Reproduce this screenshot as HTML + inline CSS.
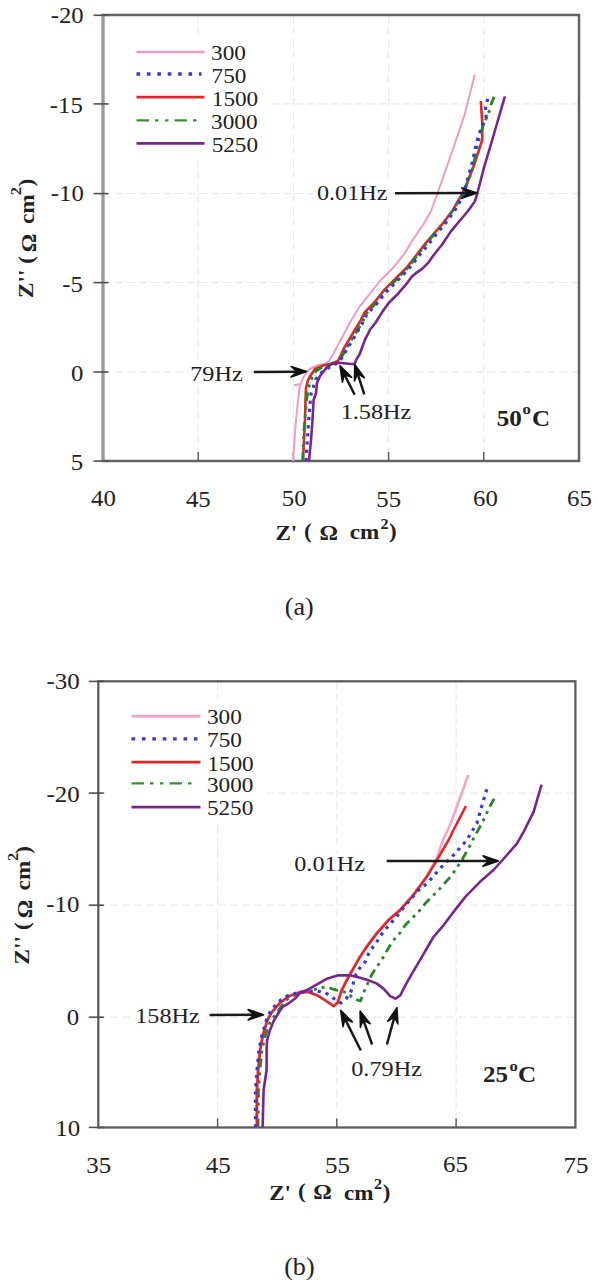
<!DOCTYPE html>
<html><head><meta charset="utf-8"><style>
html,body{margin:0;padding:0;background:#fff;}
svg{display:block;font-family:"Liberation Serif", serif;}
</style></head><body>
<svg width="598" height="1280" viewBox="0 0 598 1280" font-family='"Liberation Serif", serif' fill="#222">
<line x1="198.2" y1="15" x2="198.2" y2="461" stroke="#e6e6e6" stroke-width="1" stroke-dasharray="8 4"/>
<line x1="293.4" y1="15" x2="293.4" y2="461" stroke="#e6e6e6" stroke-width="1" stroke-dasharray="8 4"/>
<line x1="388.6" y1="15" x2="388.6" y2="461" stroke="#e6e6e6" stroke-width="1" stroke-dasharray="8 4"/>
<line x1="483.8" y1="15" x2="483.8" y2="461" stroke="#e6e6e6" stroke-width="1" stroke-dasharray="8 4"/>
<line x1="103" y1="103.9" x2="579" y2="103.9" stroke="#e6e6e6" stroke-width="1" stroke-dasharray="8 4"/>
<line x1="103" y1="193.6" x2="579" y2="193.6" stroke="#e6e6e6" stroke-width="1" stroke-dasharray="8 4"/>
<line x1="103" y1="282.6" x2="579" y2="282.6" stroke="#e6e6e6" stroke-width="1" stroke-dasharray="8 4"/>
<line x1="103" y1="372.0" x2="579" y2="372.0" stroke="#e6e6e6" stroke-width="1" stroke-dasharray="8 4"/>
<rect x="103" y="15" width="476" height="446" fill="none" stroke="#626262" stroke-width="2.5"/>
<line x1="103" y1="15" x2="103" y2="461" stroke="#9a9a9a" stroke-width="3"/>
<line x1="93.5" y1="15.3" x2="108.5" y2="15.3" stroke="#505050" stroke-width="1.6"/>
<line x1="93.5" y1="103.9" x2="108.5" y2="103.9" stroke="#505050" stroke-width="1.6"/>
<line x1="93.5" y1="193.6" x2="108.5" y2="193.6" stroke="#505050" stroke-width="1.6"/>
<line x1="93.5" y1="282.6" x2="108.5" y2="282.6" stroke="#505050" stroke-width="1.6"/>
<line x1="93.5" y1="372.0" x2="108.5" y2="372.0" stroke="#505050" stroke-width="1.6"/>
<line x1="93.5" y1="461.1" x2="108.5" y2="461.1" stroke="#505050" stroke-width="1.6"/>
<line x1="198.2" y1="461" x2="198.2" y2="452" stroke="#505050" stroke-width="1.4"/>
<line x1="293.4" y1="461" x2="293.4" y2="452" stroke="#505050" stroke-width="1.4"/>
<line x1="388.6" y1="461" x2="388.6" y2="452" stroke="#505050" stroke-width="1.4"/>
<line x1="483.8" y1="461" x2="483.8" y2="452" stroke="#505050" stroke-width="1.4"/>
<line x1="217.6" y1="681.3" x2="217.6" y2="1127.5" stroke="#e6e6e6" stroke-width="1" stroke-dasharray="8 4"/>
<line x1="336.8" y1="681.3" x2="336.8" y2="1127.5" stroke="#e6e6e6" stroke-width="1" stroke-dasharray="8 4"/>
<line x1="456.1" y1="681.3" x2="456.1" y2="1127.5" stroke="#e6e6e6" stroke-width="1" stroke-dasharray="8 4"/>
<line x1="98.3" y1="793.1" x2="575.4" y2="793.1" stroke="#e6e6e6" stroke-width="1" stroke-dasharray="8 4"/>
<line x1="98.3" y1="905.2" x2="575.4" y2="905.2" stroke="#e6e6e6" stroke-width="1" stroke-dasharray="8 4"/>
<line x1="98.3" y1="1017.2" x2="575.4" y2="1017.2" stroke="#e6e6e6" stroke-width="1" stroke-dasharray="8 4"/>
<rect x="98.3" y="681.3" width="477.09999999999997" height="446.20000000000005" fill="none" stroke="#5c5c5c" stroke-width="2.3"/>
<line x1="88.8" y1="681.4" x2="103.8" y2="681.4" stroke="#505050" stroke-width="1.6"/>
<line x1="88.8" y1="793.1" x2="103.8" y2="793.1" stroke="#505050" stroke-width="1.6"/>
<line x1="88.8" y1="905.2" x2="103.8" y2="905.2" stroke="#505050" stroke-width="1.6"/>
<line x1="88.8" y1="1017.2" x2="103.8" y2="1017.2" stroke="#505050" stroke-width="1.6"/>
<line x1="88.8" y1="1127.4" x2="103.8" y2="1127.4" stroke="#505050" stroke-width="1.6"/>
<line x1="217.6" y1="1127.5" x2="217.6" y2="1118.5" stroke="#505050" stroke-width="1.4"/>
<line x1="336.8" y1="1127.5" x2="336.8" y2="1118.5" stroke="#505050" stroke-width="1.4"/>
<line x1="456.1" y1="1127.5" x2="456.1" y2="1118.5" stroke="#505050" stroke-width="1.4"/>
<rect x="110" y="38" width="157" height="117" fill="#fff"/>
<line x1="136.5" y1="52" x2="204.5" y2="52" stroke="#ee9cc6" stroke-width="2.4"/>
<line x1="136.5" y1="74" x2="201.5" y2="74" stroke="#3a3ad0" stroke-width="3.4" stroke-dasharray="3.6 6.8"/>
<line x1="136.5" y1="97.2" x2="204.5" y2="97.2" stroke="#dc2828" stroke-width="2.8"/>
<line x1="136.5" y1="120.3" x2="197.5" y2="120.3" stroke="#3a8e3a" stroke-width="2.3" stroke-dasharray="12.5 6 3.5 6.5 3.5 6"/>
<line x1="136.5" y1="143.4" x2="204.5" y2="143.4" stroke="#78268c" stroke-width="2.8"/>
<rect x="108" y="699" width="154" height="122" fill="#fff"/>
<line x1="131.5" y1="716.3" x2="200.5" y2="716.3" stroke="#f4a6c8" stroke-width="3"/>
<line x1="131.5" y1="738.9" x2="197.5" y2="738.9" stroke="#3a3ad0" stroke-width="3.4" stroke-dasharray="3.6 6.8"/>
<line x1="131.5" y1="762.2" x2="200.5" y2="762.2" stroke="#dc2828" stroke-width="2.8"/>
<line x1="131.5" y1="783.3" x2="193.5" y2="783.3" stroke="#3a8e3a" stroke-width="2.3" stroke-dasharray="12.5 6 3.5 6.5 3.5 6"/>
<line x1="131.5" y1="807.1" x2="200.5" y2="807.1" stroke="#78268c" stroke-width="2.8"/>
<rect x="314" y="182" width="77" height="22" fill="#fff"/>
<rect x="188" y="363" width="58" height="23" fill="#fff"/>
<rect x="340" y="401" width="73" height="21" fill="#fff"/>
<rect x="291" y="853" width="77" height="22" fill="#fff"/>
<rect x="134" y="1005" width="69" height="23" fill="#fff"/>
<rect x="348" y="1059" width="77" height="21" fill="#fff"/>
<polyline points="293.0,461.0 294.5,440.0 296.0,420.0 298.0,400.0 300.0,386.0 303.0,378.0 306.0,373.0 309.6,369.0 318.0,365.0 325.0,364.0 329.0,361.0 332.7,354.9 342.0,337.5 351.4,320.1 359.4,306.8 370.1,293.4 380.8,280.0 393.4,267.5 404.1,254.1 414.8,236.8 424.1,223.4 431.5,210.0 437.4,193.5 446.8,166.8 456.1,140.0 464.5,115.0 474.8,74.4" fill="none" stroke="#ee9cc6" stroke-width="2.0" stroke-linejoin="round"/>
<polyline points="300.0,384.0 293.5,385.5" fill="none" stroke="#ee9cc6" stroke-width="2.0" stroke-linejoin="round"/>
<polyline points="303.0,461.0 304.0,440.0 305.0,420.0 305.5,400.0 306.0,388.0 308.0,380.0 311.0,375.0 315.0,369.0 323.0,365.5 330.0,364.0 338.0,361.0 344.7,346.9 352.7,333.5 360.8,320.1 364.8,312.1 374.1,302.7 384.8,289.4 396.0,278.2 406.8,267.5 416.1,255.5 425.5,243.4 433.5,234.1 442.9,223.4 452.9,210.0 460.1,197.5 465.5,186.8 473.5,166.8 482.2,140.0 482.4,125.0 480.8,101.0" fill="none" stroke="#dc2828" stroke-width="2.6" stroke-linejoin="round"/>
<polyline points="302.6,461.0 304.0,430.0 306.5,400.0 308.5,388.0 312.0,378.0 316.0,371.0 324.0,366.0 332.0,364.0 339.0,362.0 346.5,348.0 354.5,335.0 362.5,322.0 366.5,313.5 375.5,303.5 386.0,290.0 397.0,279.0 407.5,268.0 416.8,256.0 426.0,244.0 434.0,234.5 443.5,223.5 453.5,210.0 460.5,198.0 466.0,187.0 472.0,171.0 478.8,140.0 483.0,126.0 486.2,118.5 489.5,110.5 491.5,103.1 495.5,93.8" fill="none" stroke="#2a862a" stroke-width="2.8" stroke-linejoin="round" stroke-dasharray="9 5 3 5 3 5"/>
<polyline points="306.0,461.0 308.0,430.0 309.5,410.0 311.0,394.0 316.0,379.0 322.0,372.0 326.0,369.5 332.0,365.5 339.0,362.5 347.0,349.0 355.0,336.0 363.0,322.0 367.0,314.0 376.5,304.0 387.0,291.0 398.0,280.0 408.5,269.0 418.8,256.0 427.0,246.0 435.0,236.0 444.5,224.5 454.5,211.0 461.5,199.0 466.8,182.0 472.2,162.7 474.2,153.4 476.2,144.0 478.8,134.6 482.1,126.5 486.2,117.8 485.5,107.1 488.2,97.1" fill="none" stroke="#3a3ad0" stroke-width="3.2" stroke-linejoin="round" stroke-dasharray="3.2 5"/>
<polyline points="309.0,461.0 311.0,440.0 312.5,420.0 313.6,400.0 316.0,393.0 317.0,383.0 320.0,376.0 324.0,371.0 327.0,367.0 332.0,364.0 339.0,362.8 346.0,363.5 354.5,364.2 356.8,358.5 359.3,355.0 364.8,340.2 370.1,329.5 375.5,322.8 382.2,312.1 388.9,302.7 397.5,294.3 401.7,289.3 407.5,282.6 411.7,276.8 416.7,272.6 422.6,268.4 428.4,262.6 434.3,254.2 441.8,245.0 450.9,231.4 460.0,220.5 468.0,211.0 474.8,201.5 477.3,193.5 484.2,166.8 492.2,140.0 498.0,120.0 504.9,96.4" fill="none" stroke="#78268c" stroke-width="2.6" stroke-linejoin="round"/>
<line x1="395.0" y1="193.3" x2="467.7" y2="193.0" stroke="#1a1a1a" stroke-width="2.5"/>
<polygon points="477.2,193.0 461.7,198.3 467.7,193.0 461.7,187.9" fill="#111" stroke="#111" stroke-width="1.6" stroke-linejoin="round"/>
<line x1="253.8" y1="371.9" x2="297.1" y2="371.7" stroke="#1a1a1a" stroke-width="2.5"/>
<polygon points="306.6,371.6 291.1,376.9 297.1,371.7 291.1,366.5" fill="#111" stroke="#111" stroke-width="1.6" stroke-linejoin="round"/>
<line x1="354.7" y1="394.7" x2="344.3" y2="374.4" stroke="#1a1a1a" stroke-width="2.5"/>
<polygon points="340.0,365.9 351.7,377.3 344.3,374.4 342.4,382.1" fill="#111" stroke="#111" stroke-width="1.6" stroke-linejoin="round"/>
<line x1="364.3" y1="394.3" x2="357.6" y2="373.6" stroke="#1a1a1a" stroke-width="2.5"/>
<polygon points="354.7,364.6 364.4,377.7 357.6,373.6 354.5,380.9" fill="#111" stroke="#111" stroke-width="1.6" stroke-linejoin="round"/>
<polyline points="258.0,1127.4 258.5,1090.0 260.0,1070.0 262.0,1050.0 265.5,1035.0 270.5,1021.0 276.0,1014.0 285.0,1001.0 292.0,996.0 300.0,993.0 310.0,990.5 325.6,986.8 336.3,990.1 347.6,992.8 353.4,998.7 360.5,1001.0 364.3,991.1 368.5,981.9 371.8,974.4 378.5,964.4 383.5,956.9 388.6,947.7 393.6,940.1 400.3,932.6 405.3,925.1 412.0,918.4 420.0,910.0 425.2,903.5 438.5,890.2 451.9,875.1 461.9,860.1 470.3,845.0 473.4,838.6 481.8,823.5 490.1,806.0 494.8,797.6" fill="none" stroke="#2a862a" stroke-width="2.8" stroke-linejoin="round" stroke-dasharray="9 5 3 5 3 5"/>
<polyline points="256.5,1127.4 256.5,1090.0 257.7,1070.0 259.7,1050.0 262.5,1035.0 267.0,1020.0 271.5,1012.0 279.6,1002.5 289.0,995.8 300.0,991.8 308.2,991.8 317.5,995.2 326.9,1001.2 333.6,1005.8 337.2,1002.5 341.2,990.0 346.3,980.0 352.9,968.3 359.6,956.6 366.3,946.5 376.4,933.0 387.9,920.0 399.6,909.8 412.9,894.8 426.3,876.4 436.0,860.0 443.0,840.0 450.0,825.2 468.4,775.0" fill="none" stroke="#f4a6c8" stroke-width="2.6" stroke-linejoin="round"/>
<polyline points="257.0,1127.4 257.0,1090.0 258.2,1070.0 260.2,1050.0 263.0,1035.0 267.5,1020.0 272.0,1012.2 280.1,1002.8 289.4,996.1 300.1,992.1 308.2,992.1 317.5,995.5 326.9,1001.5 333.6,1006.2 337.6,1002.8 341.7,990.3 346.8,980.3 353.4,968.6 360.1,956.9 366.8,946.8 376.9,933.4 388.4,920.3 400.1,910.2 413.4,895.2 426.8,876.8 436.9,860.1 448.6,840.0 452.0,833.0 465.9,806.0" fill="none" stroke="#dc2828" stroke-width="2.6" stroke-linejoin="round"/>
<polyline points="255.5,1127.4 255.5,1090.0 257.0,1070.0 259.0,1050.0 262.0,1035.0 266.5,1020.0 270.7,1010.8 278.7,1001.5 286.8,996.1 297.5,992.8 306.0,991.5 316.2,990.8 325.6,992.8 334.2,998.8 341.0,1003.0 346.0,999.0 350.1,993.6 352.6,987.0 354.3,977.8 359.3,968.6 365.2,961.9 369.3,951.8 375.2,944.3 381.0,935.1 386.9,927.6 394.4,919.2 405.0,906.0 418.5,890.2 426.8,883.5 440.2,868.4 453.6,855.0 466.7,840.2 476.8,823.5 481.8,806.0 487.6,786.7" fill="none" stroke="#3a3ad0" stroke-width="3.2" stroke-linejoin="round" stroke-dasharray="3.2 5"/>
<polyline points="262.6,1127.4 263.6,1090.0 266.6,1070.0 266.6,1050.0 267.1,1040.0 270.1,1030.0 274.1,1020.0 279.1,1012.0 282.7,1006.8 289.4,1002.8 294.8,998.8 300.1,992.8 308.2,989.4 317.5,984.1 326.9,978.7 337.6,975.4 350.1,975.3 360.1,977.8 368.5,980.3 376.9,983.6 383.5,988.6 390.2,996.2 395.3,998.7 400.3,995.3 405.3,985.3 412.0,973.6 420.0,960.2 427.0,948.0 433.5,937.0 443.5,925.3 453.6,911.9 465.3,896.9 480.0,881.8 493.5,870.0 505.2,857.0 516.9,843.6 523.6,831.9 533.6,811.8 541.6,784.7" fill="none" stroke="#78268c" stroke-width="2.6" stroke-linejoin="round"/>
<line x1="386.6" y1="861.0" x2="489.0" y2="861.0" stroke="#1a1a1a" stroke-width="2.5"/>
<polygon points="498.5,861.0 483.0,866.2 489.0,861.0 483.0,855.8" fill="#111" stroke="#111" stroke-width="1.6" stroke-linejoin="round"/>
<line x1="209.6" y1="1015.0" x2="254.1" y2="1014.8" stroke="#1a1a1a" stroke-width="2.5"/>
<polygon points="263.6,1014.7 248.1,1020.0 254.1,1014.8 248.1,1009.6" fill="#111" stroke="#111" stroke-width="1.6" stroke-linejoin="round"/>
<line x1="360.8" y1="1050.5" x2="345.0" y2="1018.9" stroke="#1a1a1a" stroke-width="2.5"/>
<polygon points="340.7,1010.4 352.3,1021.9 345.0,1018.9 343.0,1026.6" fill="#111" stroke="#111" stroke-width="1.6" stroke-linejoin="round"/>
<line x1="372.1" y1="1044.5" x2="363.3" y2="1019.9" stroke="#1a1a1a" stroke-width="2.5"/>
<polygon points="360.1,1011.0 370.2,1023.8 363.3,1019.9 360.4,1027.3" fill="#111" stroke="#111" stroke-width="1.6" stroke-linejoin="round"/>
<line x1="386.9" y1="1044.5" x2="394.4" y2="1016.9" stroke="#1a1a1a" stroke-width="2.5"/>
<polygon points="396.9,1007.7 397.9,1024.0 394.4,1016.9 387.8,1021.3" fill="#111" stroke="#111" stroke-width="1.6" stroke-linejoin="round"/>
<text transform="matrix(1.2410,0.0000,0.0000,1.1482,50.69,23.33)" font-size="20">-20</text>
<text transform="matrix(1.2410,0.0000,0.0000,1.1482,49.84,112.96)" font-size="20">-15</text>
<text transform="matrix(1.2410,0.0000,0.0000,1.1482,50.74,201.10)" font-size="20">-10</text>
<text transform="matrix(1.2410,0.0000,0.0000,1.1482,62.20,291.95)" font-size="20">-5</text>
<text transform="matrix(1.2410,0.0000,0.0000,1.1482,70.94,380.88)" font-size="20">0</text>
<text transform="matrix(1.2410,0.0000,0.0000,1.1482,70.75,470.35)" font-size="20">5</text>
<text transform="matrix(1.2410,0.0000,0.0000,1.1482,90.99,506.23)" font-size="20">40</text>
<text transform="matrix(1.2410,0.0000,0.0000,1.1482,185.94,506.60)" font-size="20">45</text>
<text transform="matrix(1.2410,0.0000,0.0000,1.1482,281.79,506.48)" font-size="20">50</text>
<text transform="matrix(1.2410,0.0000,0.0000,1.1482,376.24,506.60)" font-size="20">55</text>
<text transform="matrix(1.2410,0.0000,0.0000,1.1482,473.04,506.48)" font-size="20">60</text>
<text transform="matrix(1.2410,0.0000,0.0000,1.1482,567.09,506.48)" font-size="20">65</text>
<text transform="matrix(1.2480,0.0000,0.0000,1.1157,46.50,689.33)" font-size="20">-30</text>
<text transform="matrix(1.2480,0.0000,0.0000,1.1157,46.50,801.63)" font-size="20">-20</text>
<text transform="matrix(1.2480,0.0000,0.0000,1.1157,46.20,912.44)" font-size="20">-10</text>
<text transform="matrix(1.2480,0.0000,0.0000,1.1157,66.81,1024.63)" font-size="20">0</text>
<text transform="matrix(1.2480,0.0000,0.0000,1.1157,55.30,1136.24)" font-size="20">10</text>
<text transform="matrix(1.2480,0.0000,0.0000,1.1157,86.20,1173.14)" font-size="20">35</text>
<text transform="matrix(1.2480,0.0000,0.0000,1.1157,205.82,1172.89)" font-size="20">45</text>
<text transform="matrix(1.2480,0.0000,0.0000,1.1157,325.07,1172.59)" font-size="20">55</text>
<text transform="matrix(1.2480,0.0000,0.0000,1.1157,443.02,1172.48)" font-size="20">65</text>
<text transform="matrix(1.2480,0.0000,0.0000,1.1157,563.50,1172.59)" font-size="20">75</text>
<text transform="matrix(1.1619,0.0000,0.0000,1.0896,211.11,60.16)" font-size="20">300</text>
<text transform="matrix(1.1619,0.0000,0.0000,1.0896,211.52,83.26)" font-size="20">750</text>
<text transform="matrix(1.1619,0.0000,0.0000,1.0896,211.78,105.72)" font-size="20">1500</text>
<text transform="matrix(1.1619,0.0000,0.0000,1.0896,211.10,128.66)" font-size="20">3000</text>
<text transform="matrix(1.1619,0.0000,0.0000,1.0896,211.63,151.71)" font-size="20">5250</text>
<text transform="matrix(1.1619,0.0000,0.0000,1.0896,207.01,724.41)" font-size="20">300</text>
<text transform="matrix(1.1619,0.0000,0.0000,1.0896,207.02,747.46)" font-size="20">750</text>
<text transform="matrix(1.1619,0.0000,0.0000,1.0896,207.28,770.92)" font-size="20">1500</text>
<text transform="matrix(1.1619,0.0000,0.0000,1.0896,206.90,791.66)" font-size="20">3000</text>
<text transform="matrix(1.1619,0.0000,0.0000,1.0896,206.88,815.21)" font-size="20">5250</text>
<text transform="matrix(1.2121,0.0000,0.0000,1.0662,316.89,199.87)" font-size="20">0.01Hz</text>
<text transform="matrix(1.2121,0.0000,0.0000,1.0662,190.26,381.22)" font-size="20">79Hz</text>
<text transform="matrix(1.2121,0.0000,0.0000,1.0662,340.68,418.52)" font-size="20">1.58Hz</text>
<text transform="matrix(1.2121,0.0000,0.0000,1.0662,294.24,870.87)" font-size="20">0.01Hz</text>
<text transform="matrix(1.2121,0.0000,0.0000,1.0662,135.26,1023.17)" font-size="20">158Hz</text>
<text transform="matrix(1.2121,0.0000,0.0000,1.0662,351.24,1076.42)" font-size="20">0.79Hz</text>
<text transform="matrix(1.2525,0.0000,0.0000,1.1591,496.77,425.65)" font-size="20" font-weight="bold">50</text>
<text transform="matrix(1.3846,0.0000,0.0000,1.2778,522.55,414.15)" font-size="12" font-weight="bold">o</text>
<text transform="matrix(1.2525,0.0000,0.0000,1.1591,532.03,425.77)" font-size="20" font-weight="bold">C</text>
<text transform="matrix(1.2525,0.0000,0.0000,1.1591,482.92,1082.27)" font-size="20" font-weight="bold">25</text>
<text transform="matrix(1.3846,0.0000,0.0000,1.2778,509.55,1070.95)" font-size="12" font-weight="bold">o</text>
<text transform="matrix(1.2525,0.0000,0.0000,1.1591,517.93,1082.27)" font-size="20" font-weight="bold">C</text>
<text transform="matrix(1.3052,0.0000,0.0000,1.2250,284.76,614.68)" font-size="20">(a)</text>
<text transform="matrix(1.3052,0.0000,0.0000,1.2250,284.16,1274.63)" font-size="20">(b)</text>
<text transform="matrix(1.1538,0.0000,0.0000,1.0167,275.43,540.11)" font-size="20" font-weight="bold">Z'</text>
<text transform="matrix(1.1538,0.0000,0.0000,1.0167,304.03,538.08)" font-size="20" font-weight="bold">(</text>
<text transform="matrix(1.1538,0.0000,0.0000,1.0167,319.50,540.01)" font-size="20" font-weight="bold">&#937;</text>
<text transform="matrix(1.1538,0.0000,0.0000,1.0167,349.87,539.43)" font-size="20" font-weight="bold">cm</text>
<text transform="matrix(1.1538,0.0000,0.0000,1.0167,380.41,528.58)" font-size="14" font-weight="bold">2</text>
<text transform="matrix(1.1538,0.0000,0.0000,1.0167,388.91,538.33)" font-size="20" font-weight="bold">)</text>
<text transform="matrix(1.1538,0.0000,0.0000,1.0303,269.18,1199.60)" font-size="20" font-weight="bold">Z'</text>
<text transform="matrix(1.1538,0.0000,0.0000,1.0303,297.88,1198.10)" font-size="20" font-weight="bold">(</text>
<text transform="matrix(1.1538,0.0000,0.0000,1.0303,313.30,1199.49)" font-size="20" font-weight="bold">&#937;</text>
<text transform="matrix(1.1538,0.0000,0.0000,1.0303,344.12,1199.64)" font-size="20" font-weight="bold">cm</text>
<text transform="matrix(1.1538,0.0000,0.0000,1.0303,374.01,1189.14)" font-size="14" font-weight="bold">2</text>
<text transform="matrix(1.1538,0.0000,0.0000,1.0303,382.81,1199.00)" font-size="20" font-weight="bold">)</text>
<text transform="matrix(0.0000,-1.1667,1.0900,0.0000,33.48,186.58)" font-size="20" font-weight="bold">)</text>
<text transform="matrix(0.0000,-1.1667,1.0900,0.0000,21.36,195.13)" font-size="14" font-weight="bold">2</text>
<text transform="matrix(0.0000,-1.1667,1.0900,0.0000,34.06,224.00)" font-size="20" font-weight="bold">cm</text>
<text transform="matrix(0.0000,-1.1667,1.0900,0.0000,36.38,252.15)" font-size="20" font-weight="bold">&#937;</text>
<text transform="matrix(0.0000,-1.1667,1.0900,0.0000,33.33,263.72)" font-size="20" font-weight="bold">(</text>
<text transform="matrix(0.0000,-1.1667,1.0900,0.0000,33.06,282.38)" font-size="20" font-weight="bold">''</text>
<text transform="matrix(0.0000,-1.1667,1.0900,0.0000,33.48,298.02)" font-size="20" font-weight="bold">Z</text>
<text transform="matrix(0.0000,-1.1585,1.0900,0.0000,29.98,853.76)" font-size="20" font-weight="bold">)</text>
<text transform="matrix(0.0000,-1.1585,1.0900,0.0000,17.71,861.10)" font-size="14" font-weight="bold">2</text>
<text transform="matrix(0.0000,-1.1585,1.0900,0.0000,29.91,890.40)" font-size="20" font-weight="bold">cm</text>
<text transform="matrix(0.0000,-1.1585,1.0900,0.0000,31.73,918.33)" font-size="20" font-weight="bold">&#937;</text>
<text transform="matrix(0.0000,-1.1585,1.0900,0.0000,29.33,929.99)" font-size="20" font-weight="bold">(</text>
<text transform="matrix(0.0000,-1.1585,1.0900,0.0000,28.86,948.94)" font-size="20" font-weight="bold">''</text>
<text transform="matrix(0.0000,-1.1585,1.0900,0.0000,29.48,964.61)" font-size="20" font-weight="bold">Z</text>
</svg></body></html>
